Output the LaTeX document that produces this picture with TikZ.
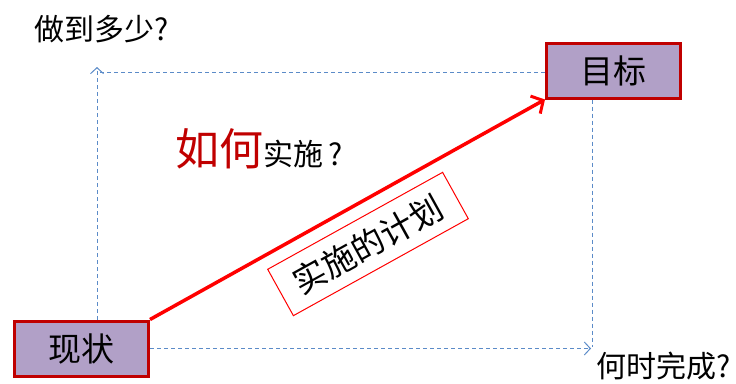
\documentclass[tikz,border=0pt]{standalone}
\usepackage{fontspec}
\setmainfont{Noto Sans CJK SC}
\usetikzlibrary{arrows.meta,calc}
\definecolor{boxfill}{HTML}{B1A0C7}
\definecolor{boxborder}{HTML}{C00000}
\definecolor{dashblue}{HTML}{5B8BC8}
\definecolor{titlered}{HTML}{C00000}
\begin{document}
\begin{tikzpicture}[x=1pt,y=-1pt,
  statebox/.style={draw=boxborder,line width=3pt,fill=boxfill,minimum width=134pt,minimum height=55pt,inner sep=0pt,font=\fontsize{33}{33}\selectfont},
  dashline/.style={draw=dashblue,line width=0.8pt,dash pattern=on 4pt off 3pt},
  dasharrow/.style={dashline,-{Straight Barb[length=6pt,width=13pt,line width=1pt]}},
  lbl/.style={inner sep=0pt,anchor=base west}]
\useasboundingbox (0,0) rectangle (736,383);
\node[statebox] (goal) at (613.5,70.5) {目标};
\node[statebox] (now) at (81.5,348.5) {现状};
\coordinate (tl) at (97,67);
\coordinate (tlh) at (100,72);
\coordinate (br) at (591,348.5);
\coordinate (rb) at (592,347);
\draw[dasharrow] ($(now.north)+(15.5,0)$) -- (tl);
\draw[dashline] (tlh) -- (tlh -| goal.west);
\draw[dashline] (goal.south -| rb) -- (rb);
\draw[dasharrow] (now.east) -- (br);
\draw[red,line width=3.5pt,-{Straight Barb[length=9pt,width=20pt,line width=3pt]}] (now.north east) -- (goal.south west);
\node[draw=red,line width=1pt,fill=white,rotate=29,minimum width=200pt,minimum height=53pt,inner sep=0pt,font=\fontsize{33}{33}\selectfont] (plan) at (368,244) {实施的计划};
\node[lbl,font=\fontsize{30}{30}\selectfont] (q1) at (34,40) {做到多少?};
\node[lbl] (how) at (175,165) {{\fontsize{44}{44}\selectfont\color{titlered}如何}{\fontsize{30}{30}\selectfont 实施\hspace{5pt}?}};
\node[lbl,font=\fontsize{30}{30}\selectfont] (q2) at (596,377) {何时完成?};
\end{tikzpicture}
\end{document}
